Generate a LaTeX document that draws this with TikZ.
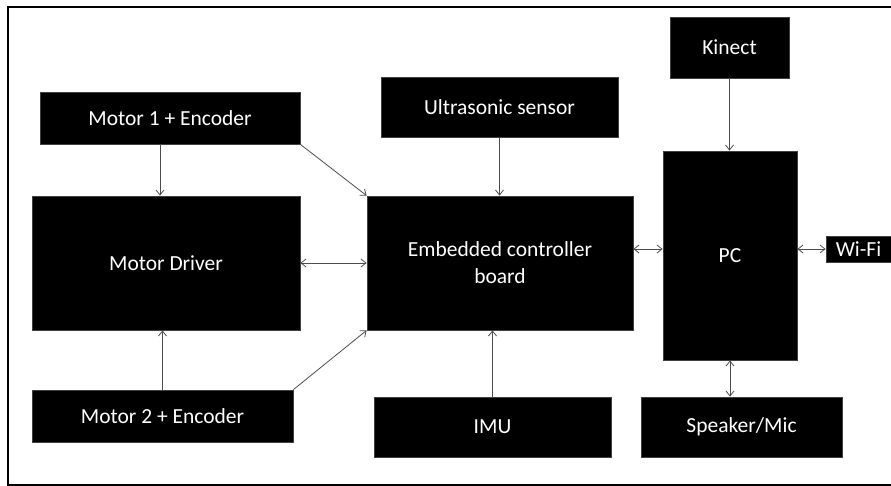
\documentclass[tikz,border=0pt]{standalone}
\usepackage{fontspec}
\setmainfont{Carlito}
\usetikzlibrary{arrows.meta}

\begin{document}
\begin{tikzpicture}[x=1pt, y=-1pt,
    block/.style={rectangle, fill=black, draw=black!75, line width=0.8pt, text=white, inner sep=2pt,
                  font=\fontsize{21.5}{27}\selectfont, align=center},
    arr/.style={draw=black!70, line width=0.8pt, -{Straight Barb[length=5pt, width=8pt]}},
    dbl/.style={draw=black!70, line width=0.8pt, {Straight Barb[length=5pt, width=8pt]}-{Straight Barb[length=5pt, width=8pt]}}]

    \useasboundingbox (0,0) rectangle (891,486);

    % Frame (open on the right)
    \draw[line width=1.5pt] (891,7) -- (8,7) -- (8,485) -- (891,485);

    % Draw boxes
    \node[block, minimum width=260pt, minimum height=52pt] (mot1) at (170,118) {Motor 1 + Encoder};
    \node[block, minimum width=268pt, minimum height=134pt] (drv) at (166,263) {Motor Driver};
    \node[block, minimum width=261pt, minimum height=52pt] (mot2) at (162.5,416) {Motor 2 + Encoder};
    \node[block, minimum width=237pt, minimum height=60pt] (sonar) at (499.5,107) {Ultrasonic sensor};
    \node[block, minimum width=266pt, minimum height=134pt] (ecb) at (500,263) {Embedded controller\\board};
    \node[block, minimum width=237pt, minimum height=60pt] (imu) at (492.5,427) {IMU};
    \node[block, minimum width=119pt, minimum height=61pt] (kinect) at (729.5,47.5) {Kinect};
    \node[block, minimum width=134pt, minimum height=209pt] (pc) at (730,255.5) {PC};
    \node[block, minimum width=65pt, minimum height=26pt] (wifi) at (858.5,249) {Wi-Fi};
    \node[block, minimum width=201pt, minimum height=60pt] (spk) at (741.5,427) {Speaker/Mic};

    % Draw connectors
    \draw[arr] ([xshift=-10pt]mot1.south) -- ([xshift=-6pt]drv.north);
    \draw[arr] (mot1.south east) -- (ecb.north west);
    \draw[arr] (sonar.south) -- (sonar.south |- ecb.north);
    \draw[arr] (kinect.south) -- (kinect.south |- pc.north);
    \draw[dbl] (drv.east) -- (ecb.west);
    \draw[dbl] (ecb.east |- wifi.west) -- (pc.west |- wifi.west);
    \draw[dbl] (pc.east |- wifi.west) -- (wifi.west);
    \draw[arr] (mot2.north east) -- (ecb.south west);
    \draw[arr] (mot2.north) -- (mot2.north |- drv.south);
    \draw[arr] (imu.north) -- (imu.north |- ecb.south);
    \draw[dbl] (pc.south) -- (pc.south |- spk.north);

\end{tikzpicture}
\end{document}
